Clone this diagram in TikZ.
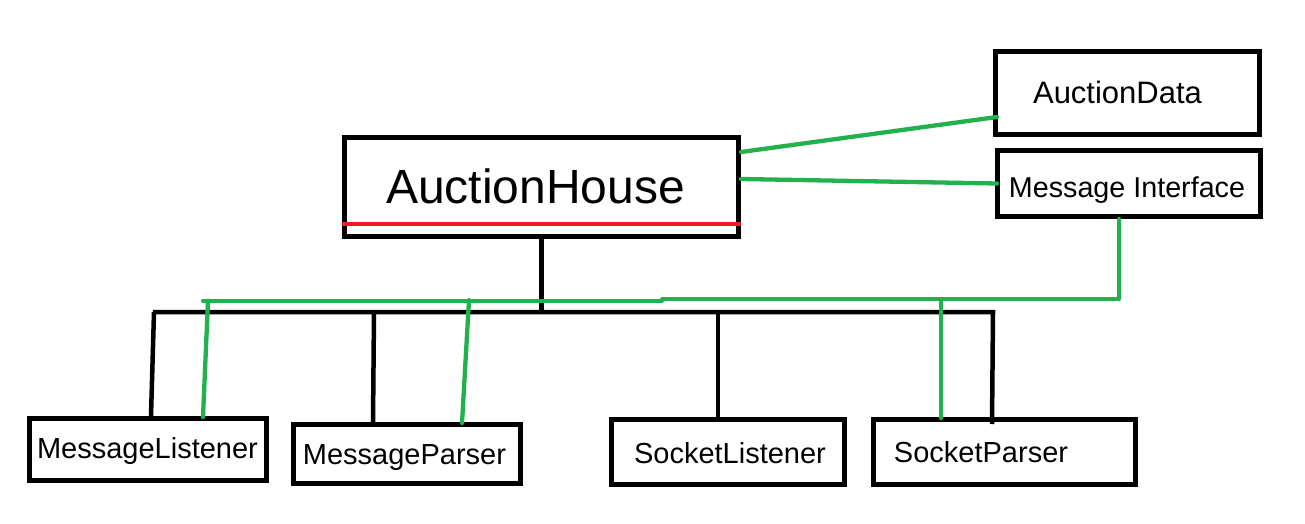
\documentclass[tikz,border=0pt]{standalone}
\usepackage{fontspec}
\setmainfont{Liberation Sans}
\usetikzlibrary{calc}
\definecolor{pgreen}{HTML}{22B14C}
\definecolor{pred}{HTML}{ED1C24}
\begin{document}
\begin{tikzpicture}[x=1pt,y=-1pt,
  box/.style={draw=black,line width=5pt,inner sep=0pt,rectangle},
  lbl/.style={anchor=base,inner sep=0pt,font=\fontsize{29}{34}\selectfont},
  blk/.style={draw=black,line width=4.5pt},
  grn/.style={draw=pgreen,line width=4.3pt,line cap=round,line join=round},
  redl/.style={draw=pred,line width=4pt},
]
\useasboundingbox (0,0) rectangle (1305,524);
\fill[white] (0,0) rectangle (1305,524);

% boxes
\node[box,minimum width=394pt,minimum height=99pt] (ah) at (541.5,187) {};
\node[box,minimum width=264pt,minimum height=83pt] (ad) at (1127.5,93) {};
\node[box,minimum width=263pt,minimum height=66pt] (mi) at (1129,183.5) {};
\node[box,minimum width=237pt,minimum height=62pt] (ml) at (148,449.5) {};
\node[box,minimum width=227pt,minimum height=59pt] (mp) at (407,454) {};
\node[box,minimum width=233pt,minimum height=65pt] (sl) at (728,452) {};
\node[box,minimum width=262pt,minimum height=65pt] (sp) at (1004.5,452) {};

% labels
\node[lbl,font=\fontsize{48}{56}\selectfont] (tah) at (535.5,203) {AuctionHouse};
\node[lbl,font=\fontsize{31}{36}\selectfont] (tad) at (1117.5,103) {AuctionData};
\node[lbl,font=\fontsize{28.7}{34}\selectfont] (tmi) at (1127,197) {Message Interface};
\node[lbl] (tml) at (147.5,458) {MessageListener};
\node[lbl] (tmp) at (404.5,464) {MessageParser};
\node[lbl] (tsl) at (730,463) {SocketListener};
\node[lbl] (tsp) at (981,462) {SocketParser};

% red underline in AuctionHouse
\draw[redl] ($(ah.west)+(0,37)$) -- ($(ah.east)+(0,37)$);

% black hierarchy
\coordinate (busL) at (153,312);
\coordinate (busR) at (993,312);
\draw[blk] (ah.south) -- (ah.south |- busL);
\draw[blk] ($(ml.north)+(3,0)$) -- ($(busL)+(1,0)$) -- (busL) -- (busR) -- ($(sp.north)+(-12.5,7)$);
\draw[blk] ($(busL)+(221,0)$) -- ($(mp.north)+(-34,0)$);
\draw[blk] ($(busL)+(565,0)$) -- ($(sl.north)+(-10,0)$);

% green associations
\draw[grn] ($(ah.east)+(0,-35)$) -- ($(ad.west)+(4,24)$);
\draw[grn] ($(ah.east)+(0,-8)$) -- ($(mi.west)+(2,0)$);
\coordinate (gR) at (1119,299.3);
\coordinate (gL) at (203,300.7);
\draw[grn] ($(mi.south)+(-10,0)$) -- (gR) -- (662,299.3) -- (662,300.7) -- (gL);
\draw[grn] ($(gL)+(5,0)$) -- ($(ml.north)+(55,1)$);
\draw[grn] ($(gL)+(266,-0.5)$) -- ($(mp.north)+(55,1)$);
\draw[grn] ($(gR)+(-178,0)$) -- ($(sp.north)+(-63.5,1)$);
\end{tikzpicture}
\end{document}
